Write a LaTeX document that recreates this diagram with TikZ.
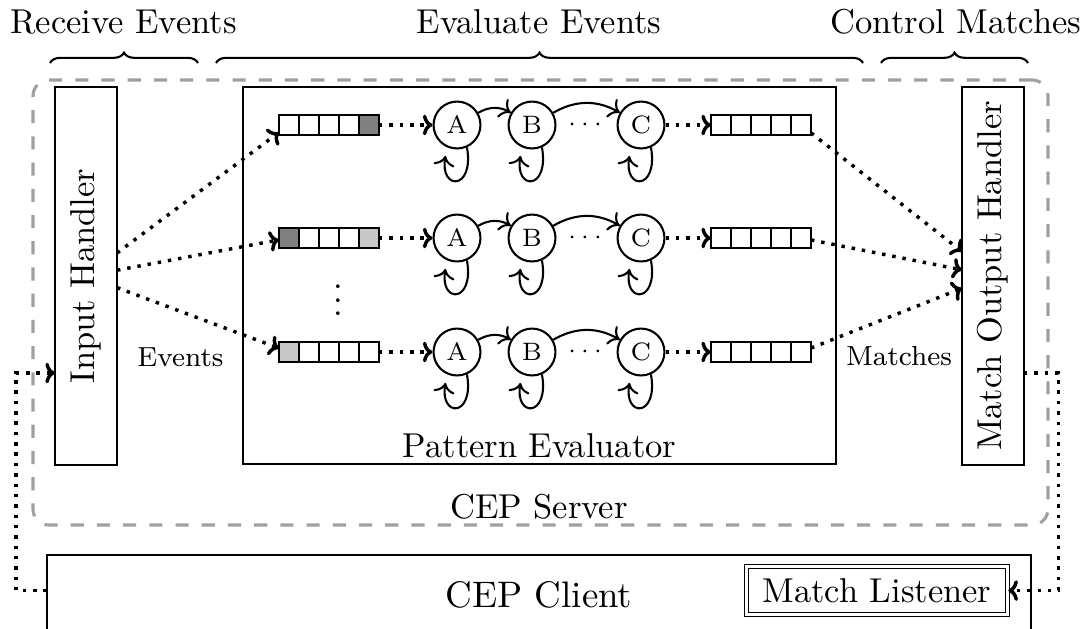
\documentclass[tikz,border=0pt]{standalone}
\usepackage{graphicx}
\usetikzlibrary{fit,calc,decorations.pathreplacing,arrows.meta}
\definecolor{srvgray}{RGB}{160,160,160}
\begin{document}
\begin{tikzpicture}[x=0.2899pt,y=-0.2899pt,
  box/.style={draw, semithick, inner sep=0pt, outer sep=0pt},
  handler/.style={box, minimum width=17.97pt, minimum height=109.6pt},
  cell/.style={draw, semithick, minimum size=5.8pt, inner sep=0pt, outer sep=0pt},
  st/.style={circle, draw, semithick, minimum size=13.6pt, inner sep=0pt,
    font=\fontsize{7.3}{8.5}\selectfont},
  flow/.style={-{To[length=2.8pt,width=6pt]}, dotted, line width=1pt},
  trans/.style={->, semithick},
  phasebrace/.style={decorate, decoration={brace, amplitude=3pt}, semithick},
  server/.style={draw=srvgray, line width=0.9pt, dash pattern=on 3.8pt off 3.8pt,
    rounded corners=4.6pt, inner sep=0pt},
  small/.style={font=\footnotesize}
]
\useasboundingbox (0,0) rectangle (1089,628);

% processing phases
\node[anchor=base] (phrecv) at (123.5,33) {Receive Events};
\node[anchor=base] (pheval) at (539,33) {Evaluate Events};
\node[anchor=base] (phctrl) at (956,33) {Control Matches};
\draw[phasebrace] (50,63) -- (198,63);
\draw[phasebrace] (216,63) -- (863,63);
\draw[phasebrace] (881,63) -- (1028,63);

% server frame
\node[server, fit={(33,80)(1048,525)}] (srv) {};
\node[anchor=base] (srvlabel) at (539,518) {CEP Server};

% handlers and evaluator
\node[handler] (ih) at (86,276) {\rotatebox{90}{Input Handler}};
\node[handler] (moh) at (993,276) {\rotatebox{90}{Match Output Handler}};
\node[box, fit={(243,87)(836,464)}] (pe) {};
\node[anchor=base] (pelabel) at (539.5,457) {Pattern Evaluator};

\node[anchor=base, small] (evlabel) at (180.5,366) {Events};
\node[anchor=base, small] (mtlabel) at (899,365) {Matches};

% one queue + automaton per pattern
\foreach \r/\y/\fa/\fe in {1/125/white/black!50, 2/238/black!50/black!22, 3/352/black!22/white}{
  \node[cell, fill=\fa] (in\r-1) at (289,\y) {};
  \foreach \k in {2,3,4} \node[cell] (in\r-\k) at ({269+20*\k},\y) {};
  \node[cell, fill=\fe] (in\r-5) at (369,\y) {};
  \foreach \k in {1,...,5} \node[cell] (out\r-\k) at ({701+20*\k},\y) {};
  \node[st] (a\r) at (457,\y) {A};
  \node[st] (b\r) at (532,\y) {B};
  \node[st] (c\r) at (641,\y) {C};
  \node[font=\fontsize{7.3}{8.5}\selectfont] (dots\r) at (585,\y) {$\cdots$};
  \draw[trans] (a\r) to[bend left=30] (b\r);
  \draw[trans] (b\r) to[bend left=30] (c\r);
  \foreach \s in {a,b,c}
    \draw[trans, shorten >=2.5pt] (\s\r.-66) .. controls +(80:44) and +(100:44) .. (\s\r.-114);
  \draw[flow] (in\r-5) -- (a\r);
  \draw[flow] (c\r) -- (out\r-1);
  \draw[flow] (ih) -- (in\r-1);
  \draw[flow] (out\r-5) -- (moh);
}
\node (vd) at (338,290) {$\vdots$};

% client
\node[box, minimum width=285.3pt, minimum height=22.9pt,
  font=\fontsize{10.7}{13}\selectfont] (cl) at (539,594.5) {CEP Client};
\node[draw, line width=0.45pt, double, double distance=0.6pt, inner sep=0pt,
  minimum width=75.66pt, minimum height=13.92pt] (ml) at (877,590.5) {Match Listener};

% client <-> server links
\draw[flow] (cl.west |- ml.east) -- ++(-31,0) |- ($(ih.west)+(0,97)$);
\draw[flow] ($(moh.east)+(0,97)$) -| ($(ml.east)+(50,0)$) -- (ml.east);
\end{tikzpicture}
\end{document}
